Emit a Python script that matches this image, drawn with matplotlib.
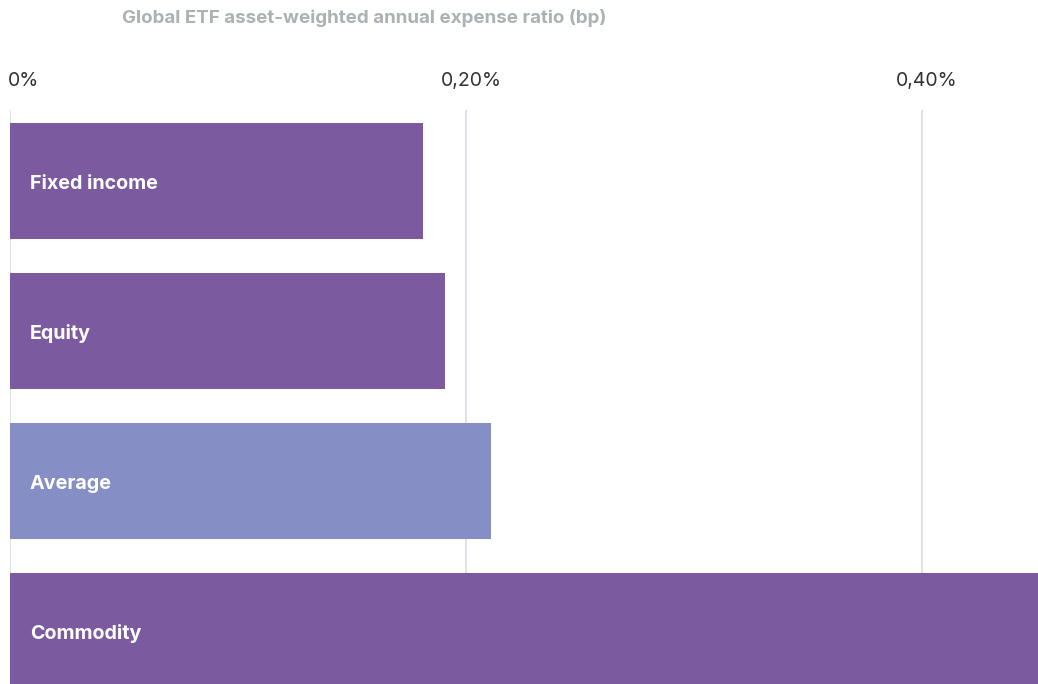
import matplotlib
matplotlib.use("Agg")
import matplotlib.pyplot as plt
import matplotlib.transforms as mtransforms

# data
categories = ["Fixed income", "Equity", "Average", "Commodity"]
expense_ratio = [0.181, 0.191, 0.211, 0.47]  # % (commodity bar runs off the chart)
tick_values = [0.0, 0.2, 0.4]
tick_labels = ["0%", "0,20%", "0,40%"]

purple = "#7b5aa0"
avg_col = "#868fc5"
colors = [avg_col if c == "Average" else purple for c in categories]

plt.rcParams["font.family"] = ["Inter", "DejaVu Sans"]

fig = plt.figure(figsize=(10.38, 6.84), dpi=100)
W, H = 1038, 684
# axes from x=10px to right edge, y=110px to bottom
ax = fig.add_axes([10 / W, 0, 1 - 10 / W, (H - 110) / H])

ypos = list(range(len(categories)))
ax.barh(ypos, expense_ratio, height=116 / 150, color=colors, zorder=2)

px = 0.2 / 456  # one pixel in data units
ax.set_xlim(0, (W - 10) * px)
ax.set_ylim(3 + (684 - 631) / 150, -(181 - 110) / 150)

for v in tick_values:
    ax.axvline(v, color="#d5dde3", lw=1.2, zorder=1)

ax.set_xticks([])
ax.set_yticks([])
for s in ax.spines.values():
    s.set_visible(False)

for y, name in zip(ypos, categories):
    ax.text(20 * px, y + 0.017, name, color="white", fontsize=14.2, fontweight="bold",
            va="center", ha="left", zorder=3)

trans = mtransforms.blended_transform_factory(ax.transData, fig.transFigure)
for i, (v, lab) in enumerate(zip(tick_values, tick_labels)):
    ax.text(v - 2 * px if i == 0 else v + 5 * px, 1 - 81 / H, lab, transform=trans,
            ha="left" if i == 0 else "center", va="center",
            fontsize=14, color="#333333")

fig.text(122 / W, 1 - 18 / H, "Global ETF asset-weighted annual expense ratio (bp)",
         ha="left", va="center", fontsize=13.5, fontweight="bold", color="#abb1b4")

fig.savefig("out.png", dpi=100)
